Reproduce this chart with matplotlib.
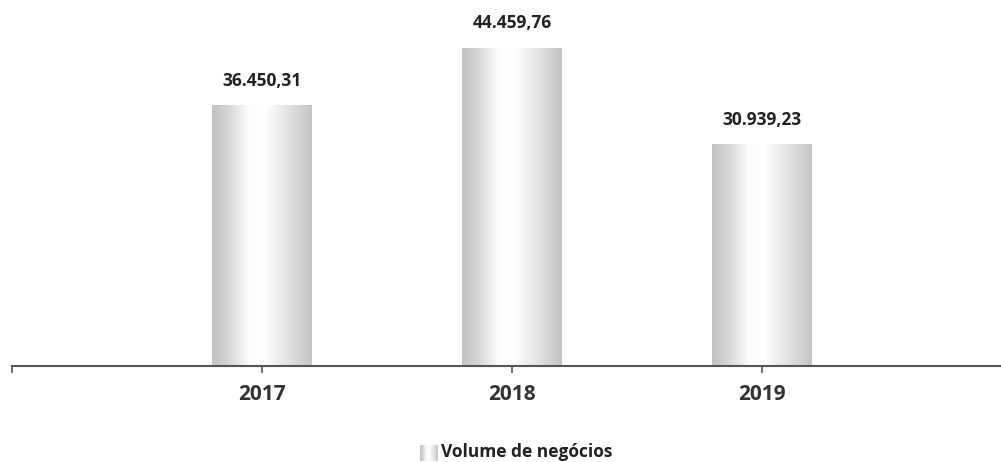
import numpy as np
import matplotlib.pyplot as plt
from matplotlib.colors import LinearSegmentedColormap

years = ["2017", "2018", "2019"]
volume = [36450.31, 44459.76, 30939.23]
value_labels = ["36.450,31", "44.459,76", "30.939,23"]
legend_label = "Volume de negócios"

plt.rcParams['font.family'] = ['Open Sans', 'DejaVu Sans']

# cylinder-like shading: light grey edges, wide bright band left of centre
shade = LinearSegmentedColormap.from_list(
    "shade", [(0.0, "#c2c2c2"), (0.15, "#d4d4d4"), (0.36, "#fbfbfb"),
              (0.52, "#ffffff"), (0.8, "#dedede"), (1.0, "#c4c4c4")])
grad = np.linspace(0, 1, 256).reshape(1, -1)

fig = plt.figure(figsize=(10.01, 4.62), dpi=100)
ax = fig.add_axes([12 / 1001, 96 / 462, 1000 / 1001, 358 / 462])

x = np.arange(len(years))
bars = ax.bar(x, volume, width=0.4, color="none", edgecolor="none", zorder=2)
for b in bars:
    x0, w, h = b.get_x(), b.get_width(), b.get_height()
    im = ax.imshow(grad, cmap=shade, aspect="auto",
                   extent=[x0, x0 + w, 0, h], zorder=2)
    im.set_clip_path(b)

for xi, v, lab in zip(x, volume, value_labels):
    ax.annotate(lab, (xi, v), xytext=(0, 11), textcoords="offset points",
                ha="center", va="bottom", fontsize=12.5, fontweight="bold",
                color="#222222")

ax.set_xlim(-1, 3)
ax.set_ylim(0, 50000)
ax.set_xticks([-1, 0, 1, 2])
ax.set_xticklabels([""] + years, fontsize=15, fontweight="bold",
                   color="#333333")
ax.tick_params(axis="x", direction="out", length=5, width=1.2,
               color="#555555", pad=8)
ax.set_yticks([])
for s in ["top", "right", "left"]:
    ax.spines[s].set_visible(False)
ax.spines["bottom"].set_color("#555555")
ax.spines["bottom"].set_linewidth(1.5)

# legend: small shaded swatch and label under the axis
sw = fig.add_axes([420 / 1001, (462 - 461) / 462, 18 / 1001, 16 / 462])
sw.imshow(grad, cmap=shade, aspect="auto")
sw.axis("off")
fig.text(441 / 1001, (462 - 452) / 462, legend_label, ha="left",
         va="center", fontsize=12.5, fontweight="bold", color="#222222")

fig.savefig("out.png", dpi=100, facecolor="white")
